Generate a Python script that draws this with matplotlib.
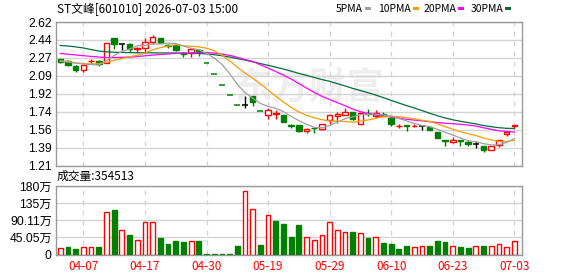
import matplotlib
matplotlib.use('Agg')
import matplotlib.pyplot as plt
import numpy as np
import pandas as pd
from matplotlib.patches import Rectangle

plt.rcParams['font.family'] = ['Liberation Sans', 'Noto Sans CJK SC']

# 日K数据 (2026-04 ~ 2026-07-03)
opens = [2.255, 2.236, 2.191, 2.146, 2.236, 2.242, 2.220, 2.465, 2.400, 2.400,
         2.357, 2.369, 2.427, 2.465, 2.395, 2.395, 2.318, 2.318, 2.347, 2.221,
         2.110, 2.005, 1.905, 1.810, 1.810, 1.892, 1.750, 1.705, 1.721, 1.714,
         1.608, 1.615, 1.549, 1.585, 1.572, 1.657, 1.703, 1.713, 1.735, 1.621,
         1.726, 1.703, 1.722, 1.683, 1.598, 1.608, 1.598, 1.605, 1.592, 1.546,
         1.461, 1.442, 1.465, 1.442, 1.425, 1.403, 1.370, 1.412, 1.523, 1.598]
highs = [2.261, 2.248, 2.197, 2.197, 2.258, 2.248, 2.414, 2.465, 2.408, 2.414,
         2.376, 2.459, 2.490, 2.465, 2.408, 2.395, 2.331, 2.369, 2.357, 2.221,
         2.110, 2.005, 1.905, 1.810, 1.892, 1.892, 1.750, 1.782, 1.756, 1.714,
         1.621, 1.615, 1.582, 1.585, 1.621, 1.709, 1.735, 1.775, 1.742, 1.735,
         1.768, 1.755, 1.735, 1.690, 1.621, 1.608, 1.621, 1.605, 1.598, 1.546,
         1.461, 1.494, 1.465, 1.461, 1.452, 1.403, 1.403, 1.465, 1.540, 1.611]
lows = [2.223, 2.185, 2.134, 2.134, 2.210, 2.191, 2.220, 2.357, 2.350, 2.325,
        2.312, 2.318, 2.408, 2.414, 2.369, 2.338, 2.280, 2.280, 2.287, 2.221,
        2.110, 2.005, 1.905, 1.810, 1.782, 1.801, 1.750, 1.666, 1.666, 1.640,
        1.582, 1.540, 1.533, 1.533, 1.566, 1.625, 1.631, 1.713, 1.664, 1.621,
        1.703, 1.677, 1.703, 1.605, 1.582, 1.549, 1.589, 1.559, 1.559, 1.481,
        1.409, 1.435, 1.409, 1.409, 1.383, 1.344, 1.370, 1.396, 1.507, 1.572]
closes = [2.229, 2.197, 2.153, 2.197, 2.242, 2.204, 2.414, 2.400, 2.400, 2.357,
          2.363, 2.427, 2.471, 2.414, 2.389, 2.344, 2.309, 2.357, 2.338, 2.221,
          2.110, 2.005, 1.905, 1.810, 1.810, 1.840, 1.750, 1.756, 1.725, 1.643,
          1.602, 1.549, 1.572, 1.579, 1.621, 1.709, 1.716, 1.742, 1.670, 1.729,
          1.719, 1.729, 1.703, 1.618, 1.605, 1.602, 1.605, 1.605, 1.559, 1.481,
          1.455, 1.468, 1.458, 1.425, 1.425, 1.370, 1.403, 1.465, 1.540, 1.611]
# 成交量 (万)
volumes = [16.6, 20, 15, 19, 19, 20, 111, 117, 64, 52,
           38, 85, 85, 44, 28, 36, 33, 35, 36, 2,
           2, 2, 2, 23, 166, 121, 25, 103, 88, 81,
           46, 78, 47, 38, 52, 85, 64, 59, 59, 56,
           44, 45, 31, 28, 15, 23, 19, 22, 23, 36,
           33, 22, 20, 17, 22, 23, 22, 27, 19, 35.4513]

# 均线起始段 (窗口之前的数据看不到, 从图上读)
ma5_head = [2.235, 2.228, 2.218, 2.208]
ma10_head = [2.240, 2.232, 2.220, 2.212, 2.210, 2.212, 2.225, 2.245, 2.262]
ma20_head = [2.312, 2.305, 2.297, 2.290, 2.283, 2.277, 2.272, 2.272, 2.274, 2.277,
             2.282, 2.289, 2.296, 2.302, 2.307, 2.312, 2.315, 2.317, 2.319]
ma30_head = [2.390, 2.385, 2.376, 2.366, 2.350, 2.336, 2.328, 2.324, 2.322, 2.320,
             2.319, 2.318, 2.318, 2.317, 2.317, 2.316, 2.315, 2.314, 2.312, 2.308,
             2.300, 2.290, 2.277, 2.262, 2.247, 2.230, 2.213, 2.196, 2.178]

tick_pos = [3, 11, 19, 27, 35, 43, 51, 59]
tick_labels = ['04-07', '04-17', '04-30', '05-19', '05-29', '06-10', '06-23', '07-03']
price_ticks = [1.21, 1.38625, 1.5625, 1.73875, 1.915, 2.09125, 2.2675, 2.44375, 2.62]
price_labels = ['1.21', '1.39', '1.56', '1.74', '1.92', '2.09', '2.27', '2.44', '2.62']
vol_ticks = [0, 45.05, 90.11, 135.16, 180.21]
vol_labels = ['0', '45.05万', '90.11万', '135万', '180万']

RED = '#ff0000'
GREEN = '#008000'
GRID = '#d4d4d4'
FRAME = '#999999'
ma_colors = {5: '#a0a0a0', 10: '#f5a000', 20: '#ff00ff', 30: '#006f3a'}
ma_heads = {5: ma5_head, 10: ma10_head, 20: ma20_head, 30: ma30_head}

n = len(closes)
x = np.arange(n)
o = np.array(opens); h = np.array(highs); l = np.array(lows); c = np.array(closes)
prev = np.r_[c[0], c[:-1]]

W, H = 578, 276
fig = plt.figure(figsize=(W / 100, H / 100), dpi=100)
ax = fig.add_axes([56 / W, 1 - 166 / H, 466 / W, 144 / H])
axv = fig.add_axes([56 / W, 1 - 254.5 / H, 466 / W, 68.5 / H])

# 水印
ax.text(0.545, 0.54, '东方财富', transform=ax.transAxes, ha='center', va='center',
        fontsize=27, fontweight='bold', color='#eeeeee', family=['Noto Sans CJK SC'], zorder=0)

# K线
for i in range(n):
    if c[i] > o[i]:
        col, fill = RED, 'white'
    elif c[i] < o[i]:
        col, fill = GREEN, GREEN
    else:
        if np.isclose(c[i], prev[i]):
            col = 'black'
        elif c[i] > prev[i]:
            col = RED
        else:
            col = GREEN
        fill = col
    ax.vlines(x[i], l[i], h[i], color=col, lw=1, zorder=3)
    if np.isclose(c[i], o[i]):
        ax.hlines(c[i], x[i] - 0.38, x[i] + 0.38, color=col, lw=1.1, zorder=4)
    else:
        ax.bar(x[i], abs(c[i] - o[i]), bottom=min(o[i], c[i]), width=0.72,
               facecolor=fill, edgecolor=col, lw=1, zorder=4)

# 均线
s = pd.Series(closes)
for k in [30, 20, 10, 5]:
    ma = s.rolling(k).mean()
    ma.iloc[:k - 1] = ma_heads[k]
    ax.plot(x, ma, color=ma_colors[k], lw=0.9, zorder=5)

# 成交量
for i in range(n):
    if i == 0 or c[i] >= prev[i] - 1e-9:
        axv.bar(x[i], volumes[i], width=0.62, facecolor='white', edgecolor=RED, lw=1, zorder=3)
    else:
        axv.bar(x[i], volumes[i], width=0.62, facecolor=GREEN, edgecolor=GREEN, lw=1, zorder=3)

for a in (ax, axv):
    a.set_xlim(-0.56, 60.0)
    for sp in a.spines.values():
        sp.set_color(FRAME)
        sp.set_linewidth(1)
    for t in tick_pos:
        a.axvline(t, color=GRID, lw=0.9, ls=(0, (4, 4)), zorder=1)
    a.tick_params(length=0, labelsize=8.7, pad=3)

ax.set_ylim(1.21, 2.62)
ax.set_yticks(price_ticks)
ax.set_yticklabels(price_labels)
for t in price_ticks:
    ax.axhline(t, color=GRID, lw=1, zorder=1)
ax.set_xticks([])

axv.set_ylim(0, 180.21)
axv.set_yticks(vol_ticks)
axv.set_yticklabels(vol_labels)
for t in vol_ticks:
    axv.axhline(t, color=GRID, lw=1, zorder=1)
axv.set_xticks(tick_pos)
axv.set_xticklabels(tick_labels, color=RED, family=['Noto Sans CJK SC'], fontsize=8.5)
axv.tick_params(axis='x', pad=4)

# 标题和图例
fig.text(57 / W, 1 - 9 / H, 'ST文峰[601010] 2026-07-03 15:00', va='center', ha='left',
         fontsize=8.5, family=['Noto Sans CJK SC'])
fig.text(57 / W, 1 - 176.5 / H, '成交量:354513', va='center', ha='left',
         fontsize=8.5, family=['Noto Sans CJK SC'])
legend_items = [('5PMA', 365, 5), ('10PMA', 413, 10), ('20PMA', 458, 20), ('30PMA', 505, 30)]
for label, mx, k in legend_items:
    fig.text((mx - 2) / W, 1 - 8.5 / H, label, va='center', ha='right',
             fontsize=7.5, family=['Noto Sans CJK SC'])
    fig.patches.append(Rectangle((mx / W, 1 - 10 / H), 6 / W, 3 / H, transform=fig.transFigure,
                                 facecolor=ma_colors[k], edgecolor='none'))

fig.savefig('out.png', dpi=100)
